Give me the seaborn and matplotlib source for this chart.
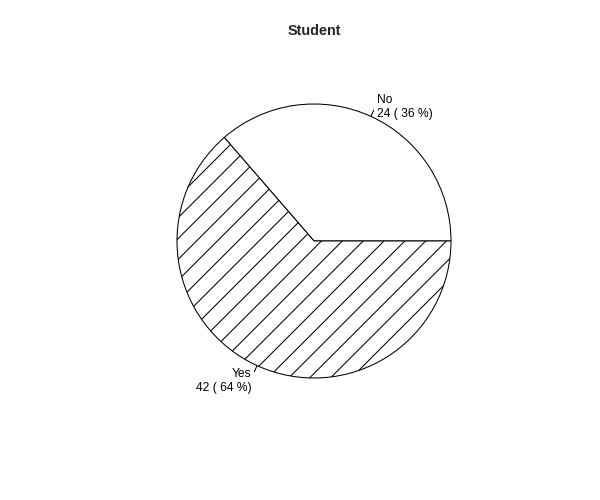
import numpy as np
import matplotlib
matplotlib.use("Agg")
import matplotlib.pyplot as plt
import seaborn as sns

categories = ["No", "Yes"]
counts = [24, 42]
hatches = ["", "//"]
title = "Student"

sns.set_style("white")
plt.rcParams["font.family"] = ["Liberation Sans", "DejaVu Sans"]
plt.rcParams["hatch.linewidth"] = 0.6
plt.rcParams["hatch.color"] = "black"

DPI = 125
fig = plt.figure(figsize=(600 / DPI, 500 / DPI), dpi=DPI)
ax = fig.add_axes([0, 0, 1, 1])

cx, cy, r = 314, 500 - 241, 137
total = sum(counts)
wedges, _ = ax.pie(counts, center=(cx, cy), radius=r, startangle=0,
                   counterclock=True, colors=["white", "white"],
                   wedgeprops=dict(edgecolor="black", linewidth=0.6),
                   frame=True)
for w, h in zip(wedges, hatches):
    w.set_hatch(h)
ax.set_xlim(0, 600)
ax.set_ylim(0, 500)
ax.axis("off")

start = 0.0
for cat, n in zip(categories, counts):
    frac = n / total
    mid = 2 * np.pi * (start + frac / 2)
    start += frac
    ux, uy = np.cos(mid), np.sin(mid)
    ax.plot([cx + r * ux, cx + 1.05 * r * ux], [cy + r * uy, cy + 1.05 * r * uy],
            color="black", lw=0.6)
    pct = int(round(100 * frac))
    ax.text(cx + 1.1 * r * ux, cy + 1.1 * r * uy - 3, f"{cat}\n{n} ( {pct} %)",
            ha="left" if ux >= 0 else "right", va="center",
            multialignment="left" if ux >= 0 else "right",
            fontsize=6.9, color="black", linespacing=1.15)

ax.text(314, 500 - 31, title, ha="center", va="center",
        fontsize=8.3, fontweight="bold")

fig.savefig("out.png", dpi=DPI)
